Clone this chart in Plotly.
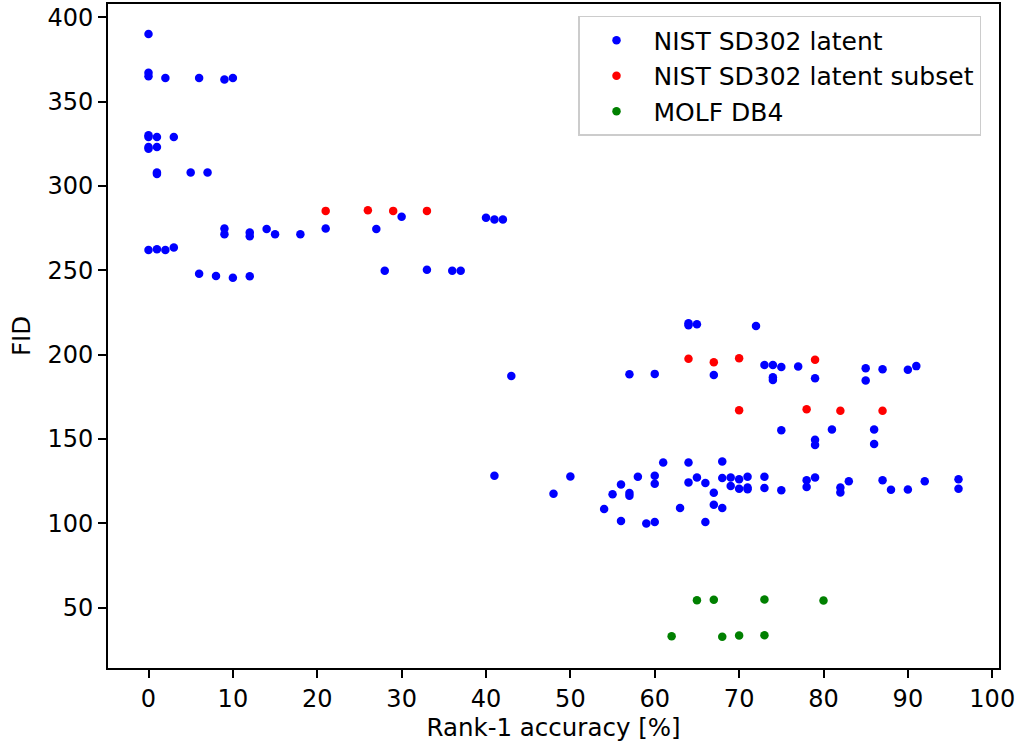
import plotly.graph_objects as go

# NIST SD302 latent
latent_x = [0, 0, 0, 2, 6, 9, 10,
            0, 0, 0, 0, 1, 3, 1,
            1, 1, 5, 7,
            0, 1, 2, 3,
            6, 8, 10, 12,
            9, 9, 12, 12, 14, 15, 18, 21,
            27, 30, 28, 33, 36, 37, 40, 41, 42,
            43, 57, 60, 64, 64, 65, 67, 72,
            73, 74, 75, 74, 74, 77, 79, 85, 85, 87, 90, 91,
            75, 81, 79, 79, 86, 86,
            41, 48, 50, 54, 55, 56, 56, 57, 57, 58, 59, 60, 60, 60, 61, 63, 64, 64,
            65, 66, 66, 67, 67, 68, 68, 68, 69, 69, 70, 70, 71, 71, 71, 73, 73, 75,
            78, 78, 79, 82, 82, 83, 87, 88, 90, 92, 96, 96]
latent_y = [390, 367, 365, 364, 364, 363, 364,
            330, 329, 323, 322, 329, 329, 323,
            308, 307, 308, 308,
            262, 262.4, 262, 263.5,
            248, 246.6, 245.6, 246.4,
            274.8, 271.4, 272.4, 270.2, 274.4, 271.4, 271.4, 274.8,
            274.4, 281.7, 249.7, 250.3, 249.7, 249.7, 281.1, 280.1, 280.1,
            187.4, 188.4, 188.6, 218.6, 217.4, 218, 188, 217,
            193.9, 193.9, 192.7, 186.6, 185, 193, 186, 192, 184.7, 191.4, 191, 193.2,
            155.2, 155.6, 149.5, 146.5, 155.6, 147,
            128.2, 117.6, 127.8, 108.5, 117.2, 123.1, 101.4, 118, 116.4, 127.6, 100, 128.2, 123.5, 100.8, 136.1, 109.1, 136.1, 124.3,
            127.2, 123.9, 100.8, 118.2, 111.1, 136.7, 126.9, 109.1, 127.2, 122.1, 126.2, 120.5, 127.6, 121.3, 120.3, 127.6, 121, 119.6,
            125.6, 121.6, 127.2, 121.3, 118.3, 125, 125.6, 119.9, 120.1, 125, 126.2, 120.5]

# NIST SD302 latent subset
subset_x = [21, 26, 29, 33, 64, 67, 70, 79, 70, 78, 82, 87]
subset_y = [285.2, 285.6, 285.2, 285.2, 197.5, 195.5, 197.9, 197, 167, 167.7, 166.7, 166.7]

# MOLF DB4
molf_x = [65, 67, 73, 80, 62, 68, 70, 73]
molf_y = [54.4, 54.7, 54.9, 54.3, 33.1, 32.8, 33.5, 33.7]

x_ticks = [0, 10, 20, 30, 40, 50, 60, 70, 80, 90, 100]
y_ticks = [50, 100, 150, 200, 250, 300, 350, 400]

FONT = "DejaVu Sans"
FS = 24.5
TFS = 24
LFS = 25

fig = go.Figure()
series = [
    ("NIST SD302 latent", latent_x, latent_y, "#0000ff"),
    ("NIST SD302 latent subset", subset_x, subset_y, "#ff0000"),
    ("MOLF DB4", molf_x, molf_y, "#008000"),
]
for i, (name, xs, ys, col) in enumerate(series):
    fig.add_trace(go.Scatter(
        x=xs, y=ys, mode="markers", name=name, legendgroup=f"g{i}",
        marker=dict(color=col, size=8.5, line=dict(width=0)),
    ))

axis_common = dict(
    showline=True, linecolor="black", linewidth=2, mirror=True,
    ticks="outside", ticklen=8, tickwidth=1.8, tickcolor="black",
    showgrid=False, zeroline=False, automargin=False,
    tickfont=dict(family=FONT, size=TFS, color="black"),
)

fig.update_layout(
    width=1021, height=746,
    margin=dict(l=108, r=22, t=4, b=78),
    paper_bgcolor="white", plot_bgcolor="white",
    font=dict(family=FONT, size=FS, color="black"),
    xaxis=dict(range=[-4.8, 100.8], tickvals=x_ticks,
               title=dict(text="Rank-1 accuracy [%]", font=dict(family=FONT, size=FS), standoff=6),
               **axis_common),
    yaxis=dict(range=[14.3, 407.8], tickvals=y_ticks,
               title=dict(text="FID", font=dict(family=FONT, size=FS), standoff=10),
               **axis_common),
    legend=dict(
        x=0.5275, y=0.982, xanchor="left", yanchor="top",
        bgcolor="white", bordercolor="#cccccc", borderwidth=1.5,
        font=dict(family=FONT, size=LFS, color="black"),
        itemwidth=64, tracegroupgap=0,
    ),
    showlegend=True,
)

fig.write_html(
    "out.html",
    config={"displayModeBar": False},
    post_script="document.body.style.margin='0';document.body.style.padding='0';",
)
